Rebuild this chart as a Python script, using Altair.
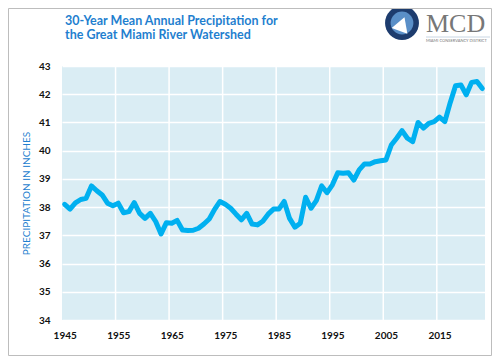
import altair as alt
import pandas as pd

years = list(range(1945, 2024))
precip = [
    38.10, 37.93, 38.15, 38.27, 38.31, 38.75, 38.58, 38.43, 38.14, 38.05,
    38.14, 37.80, 37.84, 38.16, 37.78, 37.60, 37.78, 37.49, 37.05, 37.45,
    37.43, 37.53, 37.19, 37.17, 37.18, 37.25, 37.40, 37.58, 37.92, 38.20,
    38.10, 37.96, 37.75, 37.55, 37.78, 37.40, 37.37, 37.50, 37.75, 37.93,
    37.93, 38.20, 37.60, 37.29, 37.43, 38.35, 37.96, 38.23, 38.75, 38.51,
    38.79, 39.22, 39.20, 39.22, 38.96, 39.32, 39.53, 39.53, 39.61, 39.64,
    39.67, 40.20, 40.44, 40.71, 40.44, 40.32, 41.00, 40.80, 40.97, 41.03,
    41.19, 41.03, 41.70, 42.30, 42.33, 41.98, 42.42, 42.45, 42.20,
]
x_labels = [1945, 1955, 1965, 1975, 1985, 1995, 2005, 2015]
y_ticks = list(range(34, 44))
x_grid = [1954.5, 1964.5, 1974.5, 1984.5, 1994.5, 2004.5, 2014.5]

title_lines = ["30-Year Mean Annual Precipitation for", "the Great Miami River Watershed"]
y_title = "PRECIPITATION IN INCHES"

df = pd.DataFrame({"year": years, "precip": precip})
grid_df = pd.DataFrame({"g": x_grid})
one = pd.DataFrame({"a": [0]})

FONT = "Lato"
BLUE = "#1F7FCF"

xscale = alt.Scale(domain=[1944.5, 2023.5], nice=False, zero=False)
yscale = alt.Scale(domain=[34, 43], nice=False, zero=False)
xaxis = alt.Axis(
    values=x_labels, format="d", title=None, grid=False, ticks=False,
    domain=False, labelFont=FONT, labelFontSize=10, labelFontWeight="bold",
    labelColor="#111111", labelPadding=10)

vgrid = alt.Chart(grid_df).mark_rule(color="white", strokeWidth=1.5).encode(
    x=alt.X("g:Q", scale=xscale, axis=xaxis)
)

line = alt.Chart(df).mark_line(
    color="#00B0F0", strokeWidth=5, strokeJoin="round", strokeCap="round"
).encode(
    x=alt.X("year:Q", scale=xscale, axis=xaxis),
    y=alt.Y("precip:Q", scale=yscale, axis=alt.Axis(
        values=y_ticks, title=y_title, grid=True, gridColor="white",
        gridWidth=1.5, ticks=False, domain=False, labelFont=FONT,
        labelFontSize=10, labelFontWeight="bold", labelColor="#111111",
        labelPadding=12, titleFont=FONT, titleFontSize=10,
        titleFontWeight="normal", titleColor=BLUE, titlePadding=7)),
)

title1 = alt.Chart(one).mark_text(
    text=title_lines[0], font=FONT, fontSize=12.5, fontWeight="bold",
    color=BLUE, align="left", baseline="alphabetic"
).encode(x=alt.value(3), y=alt.value(-41))
title2 = alt.Chart(one).mark_text(
    text=title_lines[1], font=FONT, fontSize=12.5, fontWeight="bold",
    color=BLUE, align="left", baseline="alphabetic"
).encode(x=alt.value(3), y=alt.value(-27))

# decorative logo
logo_circle = alt.Chart(one).mark_point(
    shape="circle", filled=True, size=1150, color="#1D3C6E", opacity=1
).encode(x=alt.value(340), y=alt.value(-43))
logo_inner = alt.Chart(one).mark_point(
    shape="circle", filled=True, size=520, color="#5A8FC8", opacity=1
).encode(x=alt.value(340), y=alt.value(-43))
logo_swirl = alt.Chart(one).mark_point(
    shape="triangle-up", filled=True, size=280, color="white", opacity=1, angle=20
).encode(x=alt.value(340), y=alt.value(-42))
logo_text = alt.Chart(one).mark_text(
    text="MCD", font="Liberation Serif", fontSize=26, color="#777777",
    align="left", baseline="alphabetic"
).encode(x=alt.value(364), y=alt.value(-34))
logo_rule = alt.Chart(one).mark_rule(
    color="#C9D6E3", strokeWidth=1
).encode(x=alt.value(364), x2=alt.value(428), y=alt.value(-29))
logo_sub = alt.Chart(one).mark_text(
    text="MIAMI CONSERVANCY DISTRICT", font=FONT, fontSize=4, color="#777777",
    align="left", baseline="top"
).encode(x=alt.value(364), y=alt.value(-27))

border = alt.Chart(one).mark_rect(
    fillOpacity=0, stroke="#BDBDBD", strokeWidth=1
).encode(x=alt.value(-53.5), x2=alt.value(429.5), y=alt.value(-57.5), y2=alt.value(289.5))

chart = alt.layer(
    vgrid, line, title1, title2, logo_circle, logo_inner, logo_swirl,
    logo_text, logo_rule, logo_sub, border
).properties(
    width=423, height=254,
    padding={"left": 54, "top": 58, "right": 7, "bottom": 36},
    autosize=alt.AutoSizeParams(type="none"),
    background="white",
).configure_view(fill="#DAEDF4", stroke=None)

chart.save("out.html", embed_options={"renderer": "svg", "actions": False})
